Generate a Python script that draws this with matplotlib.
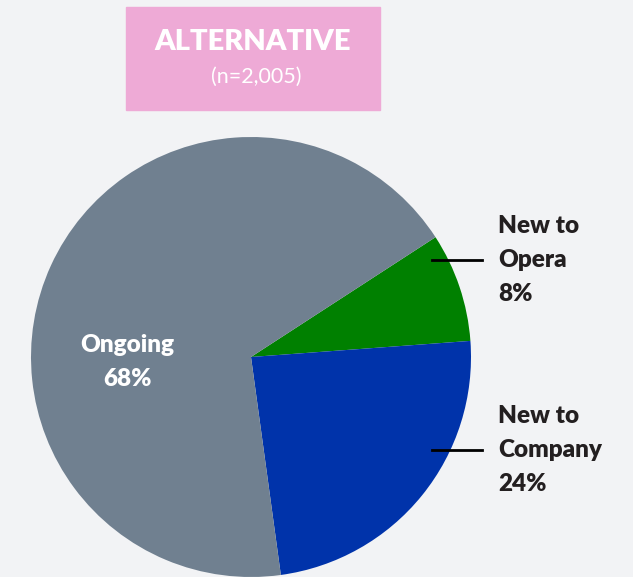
import matplotlib.pyplot as plt
from matplotlib.patches import Rectangle

labels = ['New to\nOpera', 'New to\nCompany', 'Ongoing']
shares = [8, 24, 68]
colors = ['#008000', '#0033AA', '#708090']

title = 'ALTERNATIVE'
subtitle = '(n=2,005)'

plt.rcParams['font.family'] = ['Lato', 'DejaVu Sans']

W, H = 633, 577
fig = plt.figure(figsize=(W / 100, H / 100), dpi=100, facecolor='#F2F3F5')
ax = fig.add_axes([0, 0, 1, 1])
ax.set_facecolor('#F2F3F5')

# pie in pixel units, y measured up from the bottom edge
cx, cy, r = 251, H - 357, 220
ax.pie(shares, colors=colors, startangle=33, counterclock=False,
       center=(cx, cy), radius=r, wedgeprops=dict(linewidth=0))
ax.set_xlim(0, W)
ax.set_ylim(0, H)
ax.set_aspect('equal')
ax.axis('off')

# header box
ax.add_patch(Rectangle((126, H - 110), 254, 103, color='#EEAAD6', zorder=3))
ax.text(253, H - 42, title, color='white', fontsize=21, fontweight='heavy',
        ha='center', va='center', zorder=4)
ax.text(256, H - 77, subtitle, color='white', fontsize=15.5, fontweight='normal',
        ha='center', va='center', zorder=4)

# inside label for the big slice
ax.text(127, H - 362, 'Ongoing\n' + str(shares[2]) + '%', color='white',
        fontsize=17.5, fontweight='heavy', ha='center', va='center',
        linespacing=1.65)

# callouts on the right
for lab, val, ly in [(labels[0], shares[0], 260), (labels[1], shares[1], 450)]:
    ax.plot([432, 482], [H - ly, H - ly], color='black', lw=2)
    ax.text(498, H - ly, lab + '\n' + str(val) + '%', color='#231F20',
            fontsize=17.5, fontweight='heavy', ha='left', va='center',
            linespacing=1.65)

fig.savefig('out.png', dpi=100, facecolor=fig.get_facecolor())
